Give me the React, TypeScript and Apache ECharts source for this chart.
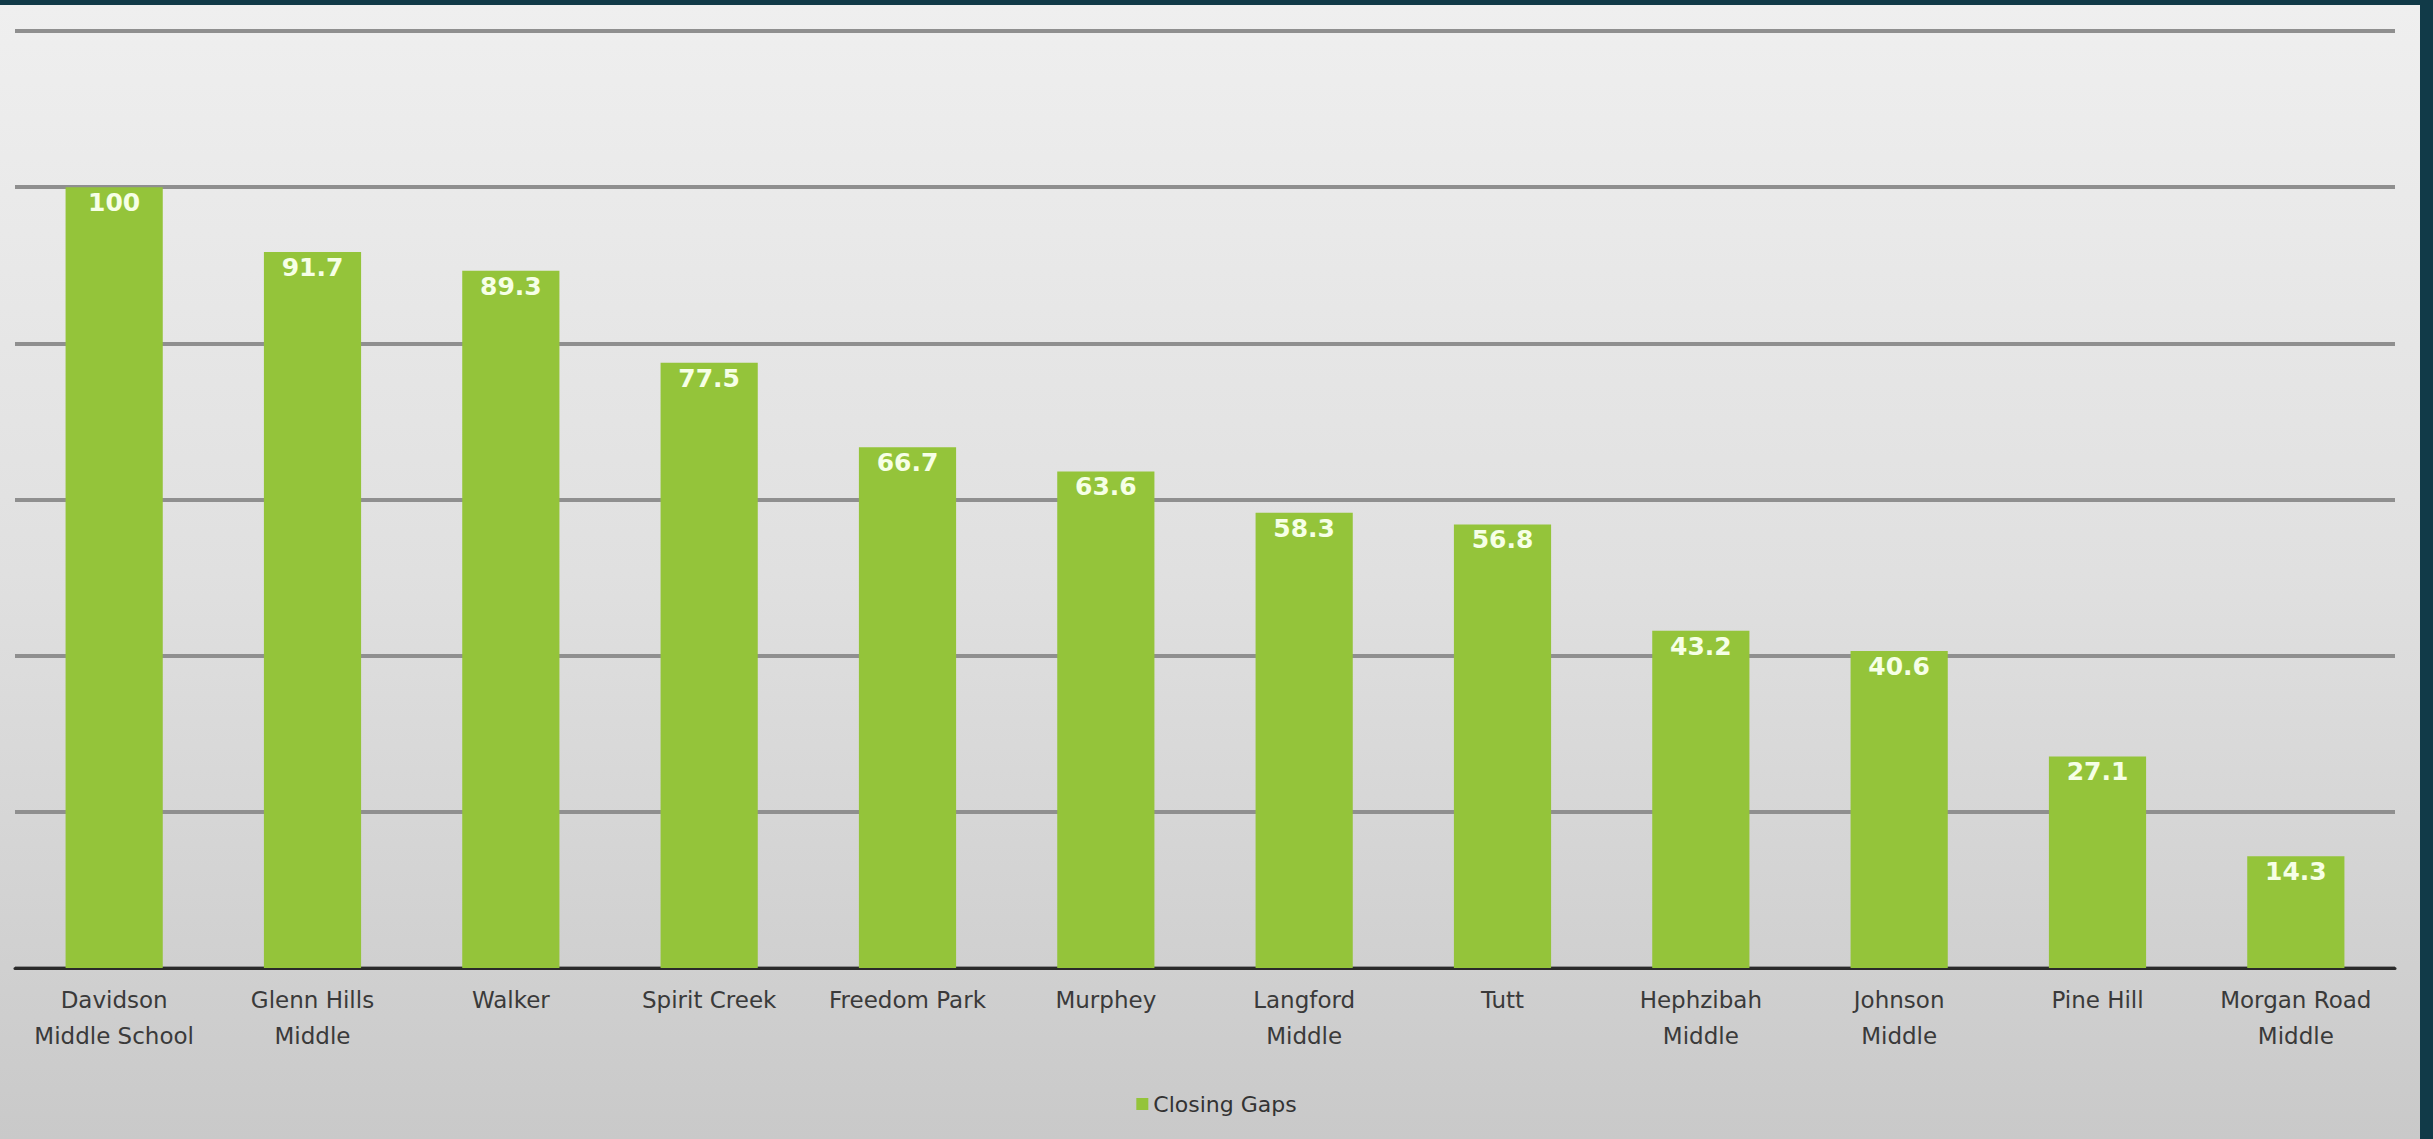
import React, { useEffect, useRef } from "react";
import * as echarts from "echarts";

const categories = [
  "Davidson\nMiddle School",
  "Glenn Hills\nMiddle",
  "Walker",
  "Spirit Creek",
  "Freedom Park",
  "Murphey",
  "Langford\nMiddle",
  "Tutt",
  "Hephzibah\nMiddle",
  "Johnson\nMiddle",
  "Pine Hill",
  "Morgan Road\nMiddle",
];
const closingGaps = [100, 91.7, 89.3, 77.5, 66.7, 63.6, 58.3, 56.8, 43.2, 40.6, 27.1, 14.3];
const seriesName = "Closing Gaps";

export default function App() {
  const ref = useRef<HTMLDivElement>(null);
  useEffect(() => {
    document.body.style.margin = "0";
    const chart = echarts.init(ref.current!, null, { renderer: "svg" });
    chart.setOption({
      animation: false,
      backgroundColor: "#113a48",
      graphic: [
        {
          type: "rect",
          z: -10,
          silent: true,
          shape: { x: 0, y: 5, width: 2420, height: 1134 },
          style: {
            fill: new echarts.graphic.LinearGradient(0, 0, 0, 1, [
              { offset: 0, color: "#efefef" },
              { offset: 0.5, color: "#e0e0e0" },
              { offset: 1, color: "#c9c9c9" },
            ]),
          },
        },
      ],
      grid: { left: 15, right: 38, top: 31, bottom: 171, containLabel: false },
      legend: {
        data: [seriesName],
        top: 1088,
        left: "center",
        itemWidth: 12,
        itemHeight: 12,
        icon: "rect",
        itemGap: 4,
        textStyle: { fontFamily: "DejaVu Sans", fontSize: 22, color: "#333" },
      },
      xAxis: {
        type: "category",
        data: categories,
        axisLine: { lineStyle: { color: "#2a2a2a", width: 3 } },
        axisTick: { show: false },
        axisLabel: {
          interval: 0,
          fontFamily: "DejaVu Sans",
          fontSize: 23,
          lineHeight: 36,
          color: "#3a3a3a",
          margin: 14,
        },
      },
      yAxis: {
        type: "value",
        min: 0,
        max: 120,
        interval: 20,
        axisLabel: { show: false },
        axisLine: { show: false },
        axisTick: { show: false },
        splitLine: { lineStyle: { color: "#8f8f8f", width: 4 } },
      },
      series: [
        {
          name: seriesName,
          type: "bar",
          data: closingGaps,
          barWidth: "49%",
          itemStyle: { color: "#94c43a" },
          label: {
            show: true,
            position: "insideTop",
            distance: 3,
            color: "#f6ffe6",
            fontFamily: "DejaVu Sans",
            fontWeight: "bold",
            fontSize: 25,
          },
        },
      ],
    });
    return () => chart.dispose();
  }, []);
  return (
    <div
      ref={ref}
      style={{ position: "fixed", left: 0, top: 0, width: 2433, height: 1139 }}
    />
  );
}
